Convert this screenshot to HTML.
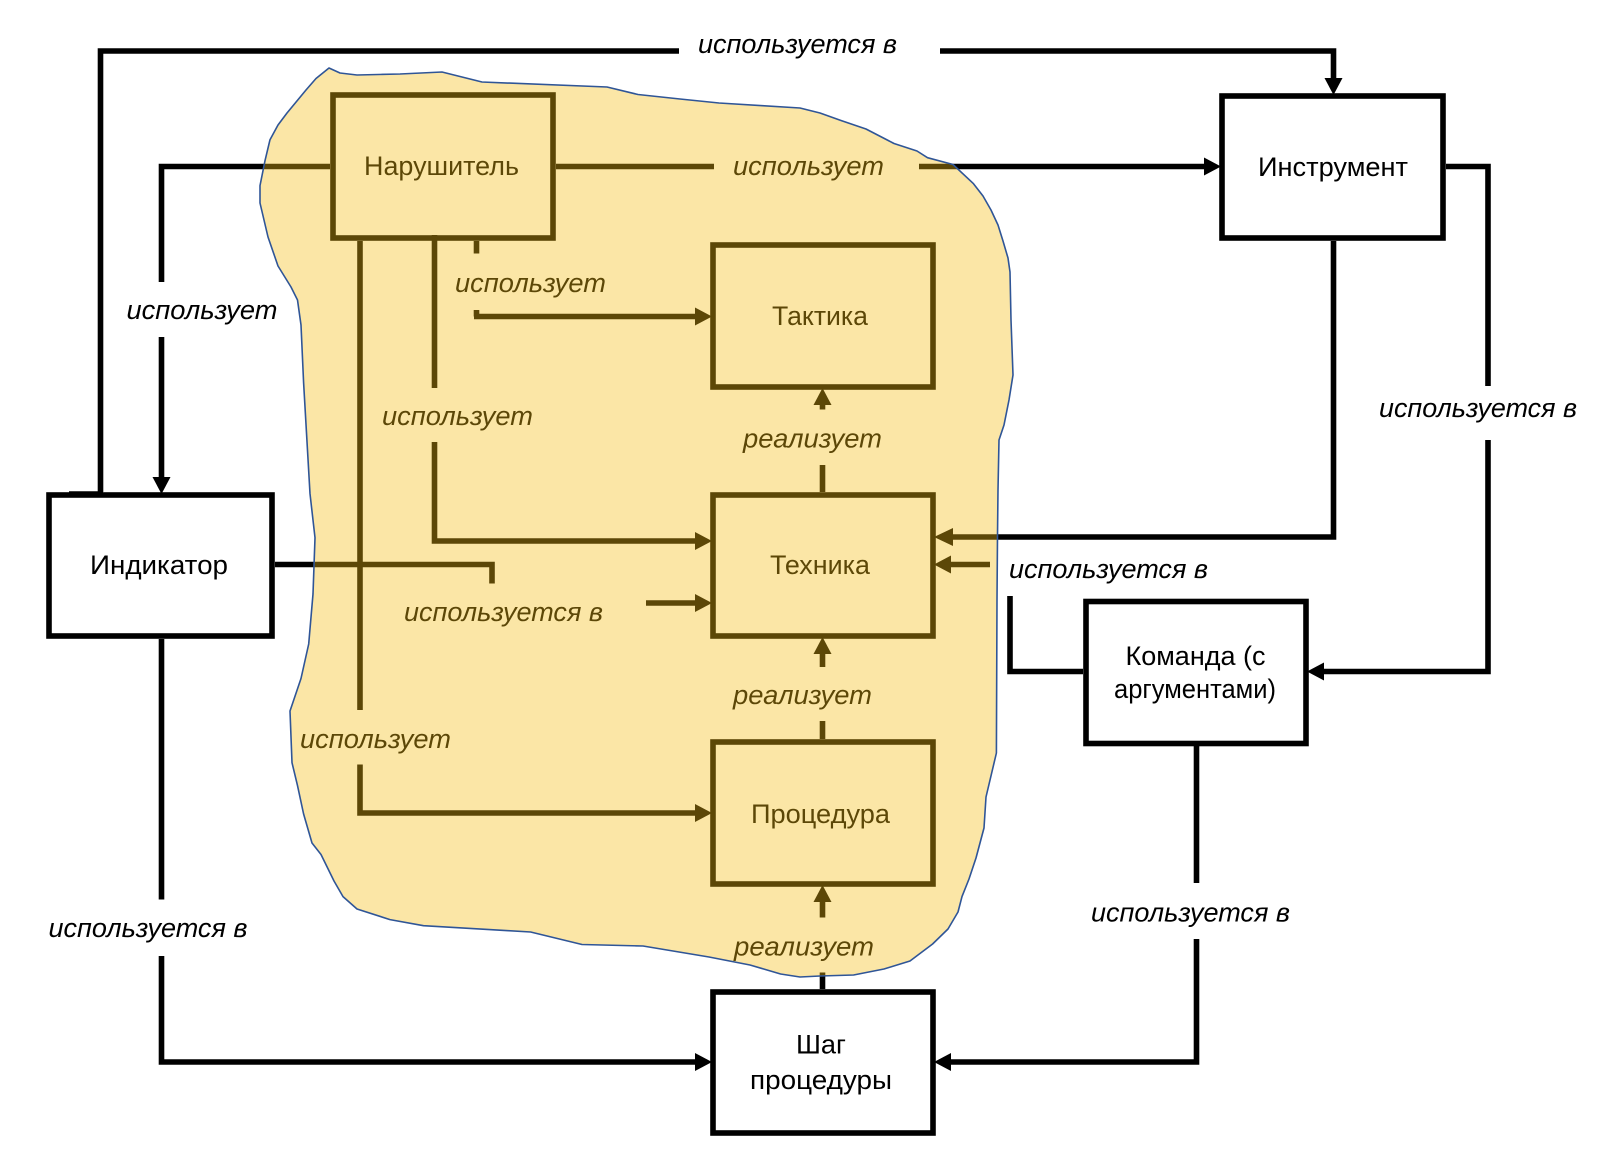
<!DOCTYPE html>
<html lang="ru"><head><meta charset="utf-8"><style>
html,body{margin:0;padding:0;background:#fff}
svg{display:block}
text{font-family:"Liberation Sans",sans-serif;font-size:27px;fill:#000}
.i{font-style:italic}
</style></head><body>
<svg width="1600" height="1156" viewBox="0 0 1600 1156" xmlns="http://www.w3.org/2000/svg">
<defs><filter id="b" filterUnits="userSpaceOnUse" x="0" y="0" width="1600" height="1156" color-interpolation-filters="sRGB"><feGaussianBlur stdDeviation="0.35"/></filter></defs>
<rect width="1600" height="1156" fill="#fff"/>
<g filter="url(#b)">
<g fill="none" stroke="#000" stroke-width="5.6" stroke-linejoin="miter">
<rect x="333" y="95" width="220" height="143"/>
<rect x="713" y="245" width="220" height="142"/>
<rect x="713" y="495" width="220" height="141"/>
<rect x="713" y="742" width="220" height="142"/>
<rect x="713" y="992" width="220" height="141"/>
<rect x="49" y="495" width="223" height="141"/>
<rect x="1222" y="96" width="221" height="142"/>
<rect x="1086" y="601.500" width="220" height="142"/>
<path d="M100.500 492V51H679"/>
<path d="M69 494H103"/>
<path d="M940 51H1333.500V80"/>
<path d="M330 166.500H161.500V282"/>
<path d="M161.500 337V480"/>
<path d="M556 166.500H714"/>
<path d="M919 166.500H1206"/>
<path d="M476.500 241V253.500"/>
<path d="M474 316.500H697"/>
<path d="M476.500 310V316.500"/>
<path d="M434.500 235V388"/>
<path d="M434.500 442V541H697"/>
<path d="M360 241V710"/>
<path d="M360 764.500V813H697"/>
<path d="M275 564.500H492V583.500"/>
<path d="M646 603H697"/>
<path d="M1333.500 241V537H951"/>
<path d="M990 564.500H949"/>
<path d="M1010 596V671.500H1083"/>
<path d="M1446 166.500H1488V386"/>
<path d="M1488 440V671.500H1322"/>
<path d="M822.500 492V465"/>
<path d="M822.500 409.500V402"/>
<path d="M822.500 721V739"/>
<path d="M822.500 667V650"/>
<path d="M822.500 972.500V989"/>
<path d="M822.500 917.500V900"/>
<path d="M161.500 639V899.500"/>
<path d="M161.500 956V1062H697"/>
<path d="M1196.500 746V883"/>
<path d="M1196.500 939V1062H949"/>
</g>
<g fill="#000">
<polygon points="1333.500,95 1324.500,78 1342.500,78"/>
<polygon points="161.500,494 152.500,477 170.500,477"/>
<polygon points="1221,166.500 1204,157.500 1204,175.500"/>
<polygon points="712,316.500 695,307.500 695,325.500"/>
<polygon points="712,541 695,532 695,550"/>
<polygon points="712,603 695,594 695,612"/>
<polygon points="712,813 695,804 695,822"/>
<polygon points="712,1062 695,1053 695,1071"/>
<polygon points="934,537 953,528 953,546"/>
<polygon points="934,564.500 951,555.500 951,573.500"/>
<polygon points="934,1062 951,1053 951,1071"/>
<polygon points="1307,671.500 1324,662.500 1324,680.500"/>
<polygon points="822.500,388 813.500,405 831.500,405"/>
<polygon points="822.500,637 813.500,654 831.500,654"/>
<polygon points="822.500,885 813.500,902 831.500,902"/>
</g>
<g>
<text x="364" y="175" textLength="155" lengthAdjust="spacingAndGlyphs">Нарушитель</text>
<text x="772" y="325" textLength="96" lengthAdjust="spacingAndGlyphs">Тактика</text>
<text x="770" y="574" textLength="100" lengthAdjust="spacingAndGlyphs">Техника</text>
<text x="90" y="574" textLength="138" lengthAdjust="spacingAndGlyphs">Индикатор</text>
<text x="1258" y="176" textLength="150" lengthAdjust="spacingAndGlyphs">Инструмент</text>
<text x="751" y="823" textLength="139" lengthAdjust="spacingAndGlyphs">Процедура</text>
<text x="796" y="1053.500" textLength="50" lengthAdjust="spacingAndGlyphs">Шаг</text>
<text x="750" y="1089" textLength="142" lengthAdjust="spacingAndGlyphs">процедуры</text>
<text x="1125.500" y="665" textLength="140" lengthAdjust="spacingAndGlyphs">Команда (с</text>
<text x="1114" y="698" textLength="162" lengthAdjust="spacingAndGlyphs">аргументами)</text>
</g>
<g>
<text class="i" x="698" y="53" textLength="199" lengthAdjust="spacingAndGlyphs">используется в</text>
<text class="i" x="126.500" y="319" textLength="151" lengthAdjust="spacingAndGlyphs">использует</text>
<text class="i" x="733" y="175" textLength="151" lengthAdjust="spacingAndGlyphs">использует</text>
<text class="i" x="455" y="292" textLength="151" lengthAdjust="spacingAndGlyphs">использует</text>
<text class="i" x="382" y="425" textLength="151" lengthAdjust="spacingAndGlyphs">использует</text>
<text class="i" x="300" y="748" textLength="151" lengthAdjust="spacingAndGlyphs">использует</text>
<text class="i" x="404" y="621" textLength="199" lengthAdjust="spacingAndGlyphs">используется в</text>
<text class="i" x="1009" y="578" textLength="199" lengthAdjust="spacingAndGlyphs">используется в</text>
<text class="i" x="1379" y="417" textLength="198" lengthAdjust="spacingAndGlyphs">используется в</text>
<text class="i" x="48.500" y="937" textLength="199" lengthAdjust="spacingAndGlyphs">используется в</text>
<text class="i" x="1091" y="921.500" textLength="199" lengthAdjust="spacingAndGlyphs">используется в</text>
<text class="i" x="743" y="447.500" textLength="139" lengthAdjust="spacingAndGlyphs">реализует</text>
<text class="i" x="733" y="704" textLength="139" lengthAdjust="spacingAndGlyphs">реализует</text>
<text class="i" x="734" y="955.500" textLength="140" lengthAdjust="spacingAndGlyphs">реализует</text>
</g>
<path fill="#F5BD13" fill-opacity="0.376" stroke="#2F5597" stroke-width="1.6" stroke-linejoin="round" d="M329 68L340 73L357 75L400 74L442 72L482 82L607 87L638 94.500L680 99L719 103L800 108L820 113L841 120.500L866 129L894 143.500L917 151L927.500 157.700L953 164.500L973.500 183.700L983 196L991 210L998 225L1003 241L1008 258L1010 272L1011 320L1013 375L1009 400L1004 425L999 440L998 490L997.500 536L997 600L996.400 753L986 797L984 828L976 858L969 879L962 896.600L958 912L948 929L932.600 944L910 961L884 969L853.600 975L820 976L800 977L780.600 974L750 965L709 957L643 946L582 944.500L530.600 932L423.500 925.700L390 919.600L357 909L343 896.600L334 881L321 854.500L312 843L303.600 814L297.500 785.600L292 762.700L290 711L301 678.500L308.700 644L313 594L315 537.700L310 493.700L303.600 382.700L301 325L297.500 300L291 287L278 266L268 237L260 203L260 185.600L265 160.700L270 139.700L278 125L287 113L306 90L316 78.500Z"/>
</g>
</svg>
</body></html>
